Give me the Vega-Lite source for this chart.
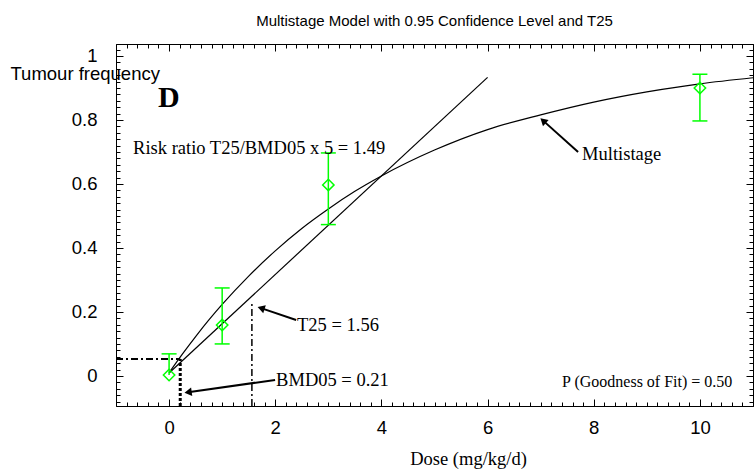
{
  "$schema": "https://vega.github.io/schema/vega-lite/v6.json",
  "width": 637,
  "height": 362,
  "autosize": {"type": "none"},
  "padding": {"left": 116, "top": 44, "right": 1, "bottom": 66},
  "background": "white",
  "title": {"text": "Multistage Model with 0.95 Confidence Level and T25", "font": "Liberation Sans", "fontSize": 15, "fontWeight": "normal", "color": "black", "offset": 12, "anchor": "middle"},
  "config": {"view": {"stroke": "black", "strokeWidth": 1}, "axis": {"labelOverlap": false, "labelBound": false, "labelFlush": false, "tickWidth": 1, "domainWidth": 1, "tickCount": 500}},
  "datasets": {
    "curve": [
      {"d": 0, "v": 0.010}, {"d": 0.25, "v": 0.068}, {"d": 0.5, "v": 0.123}, {"d": 0.75, "v": 0.175},
      {"d": 1, "v": 0.2235}, {"d": 1.5, "v": 0.312}, {"d": 2, "v": 0.391}, {"d": 2.5, "v": 0.461},
      {"d": 3, "v": 0.522}, {"d": 3.5, "v": 0.577}, {"d": 4, "v": 0.625}, {"d": 5, "v": 0.706},
      {"d": 6, "v": 0.770}, {"d": 7, "v": 0.816}, {"d": 8, "v": 0.856}, {"d": 9, "v": 0.888},
      {"d": 10, "v": 0.913}, {"d": 11, "v": 0.932}
    ],
    "bound": [{"d": 0, "v": 0.009}, {"d": 6.0, "v": 0.933}],
    "obs": [
      {"d": 0, "v": 0.003, "lo": 0.003, "hi": 0.069},
      {"d": 1, "v": 0.159, "lo": 0.10, "hi": 0.275},
      {"d": 3, "v": 0.597, "lo": 0.473, "hi": 0.697},
      {"d": 10, "v": 0.90, "lo": 0.797, "hi": 0.943}
    ],
    "arrows": [
      {"d": 7.705, "v": 0.700, "d2": 7.046, "v2": 0.798},
      {"d": 2.393, "v": 0.175, "d2": 1.733, "v2": 0.212},
      {"d": 1.997, "v": -0.0125, "d2": 0.358, "v2": -0.051}
    ]
  },
  "layer": [
    {
      "layer": [
        {
          "data": {"name": "curve"},
          "mark": {"type": "line", "color": "black", "strokeWidth": 1.2, "interpolate": "monotone"},
          "encoding": {
            "x": {"field": "d", "type": "quantitative", "scale": {"domain": [-1, 11], "nice": false, "zero": false},
              "axis": {"orient": "bottom", "grid": false, "domainColor": "black", "tickColor": "black", "tickCount": 500,
                "values": [-0.8,-0.6,-0.4,-0.2,0,0.2,0.4,0.6,0.8,1,1.2,1.4,1.6,1.8,2,2.2,2.4,2.6,2.8,3,3.2,3.4,3.6,3.8,4,4.2,4.4,4.6,4.8,5,5.2,5.4,5.6,5.8,6,6.2,6.4,6.6,6.8,7,7.2,7.4,7.6,7.8,8,8.2,8.4,8.6,8.8,9,9.2,9.4,9.6,9.8,10,10.2,10.4,10.6,10.8],
                "labelExpr": "abs(datum.value/2 - round(datum.value/2)) < 1e-6 ? format(datum.value, '~g') : ''",
                "tickSize": {"condition": {"test": "abs(datum.value/2 - round(datum.value/2)) < 1e-6", "value": -7}, "value": -4},
                "labelFont": "Liberation Sans", "labelFontSize": 18.5, "labelColor": "black", "labelPadding": 19, "labelDx": -3,
                "title": "Dose (mg/kg/d)", "titleFont": "Liberation Serif", "titleFontSize": 18.5, "titleFontWeight": "normal", "titleColor": "black",
                "titleX": 352, "titleY": 52, "titleAlign": "center", "titleBaseline": "middle"}},
            "y": {"field": "v", "type": "quantitative", "scale": {"domain": [-0.094, 1.0375], "nice": false, "zero": false},
              "axis": {"orient": "left", "grid": false, "domainColor": "black", "tickColor": "black", "tickCount": 500,
                "values": [-0.08,-0.06,-0.04,-0.02,0,0.02,0.04,0.06,0.08,0.1,0.12,0.14,0.16,0.18,0.2,0.22,0.24,0.26,0.28,0.3,0.32,0.34,0.36,0.38,0.4,0.42,0.44,0.46,0.48,0.5,0.52,0.54,0.56,0.58,0.6,0.62,0.64,0.66,0.68,0.7,0.72,0.74,0.76,0.78,0.8,0.82,0.84,0.86,0.88,0.9,0.92,0.94,0.96,0.98,1,1.02],
                "labelExpr": "abs(datum.value*5 - round(datum.value*5)) < 1e-6 ? format(datum.value, '~g') : ''",
                "tickSize": {"condition": {"test": "abs(datum.value*5 - round(datum.value*5)) < 1e-6", "value": -7}, "value": -4},
                "labelFont": "Liberation Sans", "labelFontSize": 18.5, "labelColor": "black", "labelPadding": 26, "labelDy": 4,
                "title": "Tumour frequency", "titleFont": "Liberation Sans", "titleFontSize": 18.5, "titleFontWeight": "normal", "titleColor": "black",
                "titleAngle": 0, "titleX": -106, "titleY": 29, "titleAlign": "left", "titleBaseline": "middle"}}
          }
        },
        {
          "data": {"name": "bound"},
          "mark": {"type": "line", "color": "black", "strokeWidth": 1.2},
          "encoding": {
            "x": {"field": "d", "type": "quantitative", "scale": {"domain": [-1, 11], "nice": false, "zero": false}},
            "y": {"field": "v", "type": "quantitative", "scale": {"domain": [-0.094, 1.0375], "nice": false, "zero": false}}
          }
        },
        {
          "data": {"values": [{"d": -1, "v": 0.053, "d2": 0.21}]},
          "mark": {"type": "rule", "color": "black", "strokeWidth": 2, "strokeDash": [7, 3, 2, 3]},
          "encoding": {
            "x": {"field": "d", "type": "quantitative"},
            "x2": {"field": "d2"},
            "y": {"field": "v", "type": "quantitative"}
          }
        },
        {
          "data": {"values": [{"d": 0.21, "v": -0.094, "v2": 0.053}]},
          "mark": {"type": "rule", "color": "black", "strokeWidth": 3, "strokeDash": [3, 2]},
          "encoding": {
            "x": {"field": "d", "type": "quantitative"},
            "y": {"field": "v", "type": "quantitative"},
            "y2": {"field": "v2"}
          }
        },
        {
          "data": {"values": [{"d": 1.56, "v": -0.094, "v2": 0.232}]},
          "mark": {"type": "rule", "color": "black", "strokeWidth": 1.5, "strokeDash": [7, 3, 2, 3]},
          "encoding": {
            "x": {"field": "d", "type": "quantitative"},
            "y": {"field": "v", "type": "quantitative"},
            "y2": {"field": "v2"}
          }
        },
        {
          "data": {"name": "obs"},
          "mark": {"type": "rule", "color": "#00ff00", "strokeWidth": 1.5},
          "encoding": {
            "x": {"field": "d", "type": "quantitative"},
            "y": {"field": "lo", "type": "quantitative"},
            "y2": {"field": "hi"}
          }
        },
        {
          "data": {"name": "obs"},
          "mark": {"type": "tick", "orient": "horizontal", "size": 15, "thickness": 1.5, "color": "#00ff00", "opacity": 1},
          "encoding": {
            "x": {"field": "d", "type": "quantitative"},
            "y": {"field": "hi", "type": "quantitative"}
          }
        },
        {
          "data": {"name": "obs"},
          "transform": [{"filter": "datum.lo < datum.v"}],
          "mark": {"type": "tick", "orient": "horizontal", "size": 15, "thickness": 1.5, "color": "#00ff00", "opacity": 1},
          "encoding": {
            "x": {"field": "d", "type": "quantitative"},
            "y": {"field": "lo", "type": "quantitative"}
          }
        },
        {
          "data": {"name": "obs"},
          "mark": {"type": "point", "shape": "diamond", "filled": false, "size": 130, "color": "#00ff00", "strokeWidth": 1.5, "opacity": 1},
          "encoding": {
            "x": {"field": "d", "type": "quantitative"},
            "y": {"field": "v", "type": "quantitative"}
          }
        },
        {
          "data": {"name": "arrows"},
          "mark": {"type": "rule", "color": "black", "strokeWidth": 2},
          "encoding": {
            "x": {"field": "d", "type": "quantitative"},
            "y": {"field": "v", "type": "quantitative"},
            "x2": {"field": "d2"},
            "y2": {"field": "v2"}
          }
        },
        {
          "data": {"values": [{"d": 7.046, "v": 0.798}]},
          "mark": {"type": "point", "shape": "triangle-up", "filled": true, "size": 70, "color": "black", "opacity": 1, "angle": 312},
          "encoding": {"x": {"field": "d", "type": "quantitative"}, "y": {"field": "v", "type": "quantitative"}}
        },
        {
          "data": {"values": [{"d": 1.733, "v": 0.212}]},
          "mark": {"type": "point", "shape": "triangle-up", "filled": true, "size": 70, "color": "black", "opacity": 1, "angle": 288},
          "encoding": {"x": {"field": "d", "type": "quantitative"}, "y": {"field": "v", "type": "quantitative"}}
        },
        {
          "data": {"values": [{"d": 0.358, "v": -0.051}]},
          "mark": {"type": "point", "shape": "triangle-up", "filled": true, "size": 70, "color": "black", "opacity": 1, "angle": 262},
          "encoding": {"x": {"field": "d", "type": "quantitative"}, "y": {"field": "v", "type": "quantitative"}}
        },
        {
          "data": {"values": [
            {"d": -0.678, "v": 0.694, "label": "Risk ratio T25/BMD05 x 5 = 1.49"},
            {"d": 7.781, "v": 0.675, "label": "Multistage"},
            {"d": 2.411, "v": 0.1406, "label": "T25 = 1.56"},
            {"d": 2.016, "v": -0.030, "label": "BMD05 = 0.21"}
          ]},
          "mark": {"type": "text", "font": "Liberation Serif", "fontSize": 18.5, "color": "black", "align": "left", "baseline": "alphabetic"},
          "encoding": {
            "x": {"field": "d", "type": "quantitative"},
            "y": {"field": "v", "type": "quantitative"},
            "text": {"field": "label"}
          }
        },
        {
          "data": {"values": [{"d": 7.404, "v": -0.034, "label": "P (Goodness of Fit) = 0.50"}]},
          "mark": {"type": "text", "font": "Liberation Serif", "fontSize": 16, "color": "black", "align": "left", "baseline": "alphabetic"},
          "encoding": {
            "x": {"field": "d", "type": "quantitative"},
            "y": {"field": "v", "type": "quantitative"},
            "text": {"field": "label"}
          }
        },
        {
          "data": {"values": [{"d": -0.207, "v": 0.841, "label": "D"}]},
          "mark": {"type": "text", "font": "Liberation Serif", "fontSize": 30, "fontWeight": "bold", "color": "black", "align": "left", "baseline": "alphabetic"},
          "encoding": {
            "x": {"field": "d", "type": "quantitative"},
            "y": {"field": "v", "type": "quantitative"},
            "text": {"field": "label"}
          }
        }
      ]
    },
    {
      "data": {"name": "bound"},
      "mark": {"type": "point", "opacity": 0},
      "encoding": {
        "x": {"field": "d", "type": "quantitative", "scale": {"domain": [-1, 11], "nice": false, "zero": false},
          "axis": {"orient": "top", "grid": false, "domainColor": "black", "tickColor": "black", "labels": false, "title": null, "tickCount": 500,
            "values": [-0.8,-0.6,-0.4,-0.2,0,0.2,0.4,0.6,0.8,1,1.2,1.4,1.6,1.8,2,2.2,2.4,2.6,2.8,3,3.2,3.4,3.6,3.8,4,4.2,4.4,4.6,4.8,5,5.2,5.4,5.6,5.8,6,6.2,6.4,6.6,6.8,7,7.2,7.4,7.6,7.8,8,8.2,8.4,8.6,8.8,9,9.2,9.4,9.6,9.8,10,10.2,10.4,10.6,10.8],
            "tickSize": {"condition": {"test": "abs(datum.value/2 - round(datum.value/2)) < 1e-6", "value": -7}, "value": -4}}},
        "y": {"field": "v", "type": "quantitative", "scale": {"domain": [-0.094, 1.0375], "nice": false, "zero": false},
          "axis": {"orient": "right", "grid": false, "domainColor": "black", "tickColor": "black", "labels": false, "title": null, "tickCount": 500,
            "values": [-0.08,-0.06,-0.04,-0.02,0,0.02,0.04,0.06,0.08,0.1,0.12,0.14,0.16,0.18,0.2,0.22,0.24,0.26,0.28,0.3,0.32,0.34,0.36,0.38,0.4,0.42,0.44,0.46,0.48,0.5,0.52,0.54,0.56,0.58,0.6,0.62,0.64,0.66,0.68,0.7,0.72,0.74,0.76,0.78,0.8,0.82,0.84,0.86,0.88,0.9,0.92,0.94,0.96,0.98,1,1.02],
            "tickSize": {"condition": {"test": "abs(datum.value*5 - round(datum.value*5)) < 1e-6", "value": -7}, "value": -4}}}
      }
    }
  ],
  "resolve": {"axis": {"x": "independent", "y": "independent"}}
}
